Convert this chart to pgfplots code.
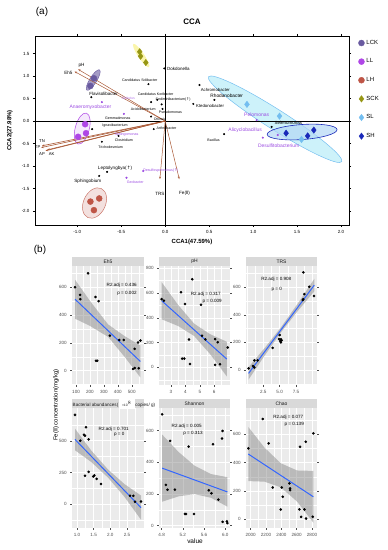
\documentclass[border=0pt]{standalone}
\usepackage{pgfplots}
\pgfplotsset{compat=1.18}
\usepackage{fontspec}
\setmainfont{Liberation Sans}
\newfontfamily\dejavu{DejaVu Sans}
\usetikzlibrary{arrows.meta}
\definecolor{cLCK}{RGB}{105,90,160}
\definecolor{cLL}{RGB}{175,70,230}
\definecolor{cLH}{RGB}{190,85,70}
\definecolor{cSCK}{RGB}{150,150,20}
\definecolor{cSL}{RGB}{115,190,240}
\definecolor{cSH}{RGB}{25,40,185}
\definecolor{arrowc}{RGB}{170,90,55}
\definecolor{spp}{RGB}{155,75,225}
\definecolor{ggbg}{RGB}{235,235,235}
\definecolor{ggstrip}{RGB}{217,217,217}
\definecolor{ggtext}{RGB}{77,77,77}
\definecolor{ggdark}{RGB}{26,26,26}
\definecolor{ggblue}{RGB}{51,102,255}
\definecolor{slfill}{RGB}{205,242,250}
\definecolor{shfill}{RGB}{180,215,245}
\definecolor{sckfill}{RGB}{250,245,170}
\pgfplotsset{
 gg/.style={
  scale only axis, anchor=south west,
  axis background/.style={fill=ggbg},
  axis line style={draw=none},
  grid=both,
  major grid style={white, line width=0.5pt},
  minor grid style={white, line width=0.25pt},
  tick align=outside, major tick length=1.8bp, minor tick length=0pt,
  tick style={ggtext, line width=0.4pt},
  ticklabel style={font=\fontsize{4.6}{5}\selectfont, text=ggtext},
  /pgf/number format/assume math mode=true,
  scaled ticks=false,
  every axis title/.style={at={(0.5,1)}, anchor=south, fill=ggstrip, minimum width=#1, minimum height=9bp, inner sep=0pt, font=\fontsize{5}{6}\selectfont, text=ggdark},
 },
 band/.style={fill=gray, fill opacity=0.45, draw=none, forget plot},
 ggline/.style={ggblue, line width=1bp, no marks},
 ggpt/.style={only marks, mark=*, mark size=1.1bp, black},
 onedec/.style={/pgf/number format/fixed, /pgf/number format/fixed zerofill, /pgf/number format/precision=1},
}
\begin{document}
\begin{tikzpicture}
\useasboundingbox (0,0) rectangle (388bp,550bp);
\node[font=\fontsize{10}{12}\selectfont] at (42bp,538bp) {(a)};
\node[font=\fontsize{10}{12}\selectfont] at (40bp,300bp) {(b)};
% ---------------- CCA ----------------
\begin{axis}[scale only axis, width=314bp, height=189bp, at={(35bp,325bp)}, anchor=south west,
 xmin=-1.48, xmax=2.09, ymin=-2.31, ymax=1.89,
 xtick={-1,-0.5,0,0.5,1,1.5,2}, ytick={-2,-1.5,-1,-0.5,0,0.5,1,1.5},
 xticklabel style={onedec}, yticklabel style={onedec},
 /pgf/number format/assume math mode=true,
 tick align=outside, major tick length=2bp, tick style={black, line width=0.4pt},
 ticklabel style={font=\fontsize{4.5}{5}\selectfont},
 axis line style={line width=0.5pt},
 title={\textbf{CCA}}, every axis title/.style={at={(0.5,1)}, anchor=base, yshift=11bp, font=\fontsize{8}{9}\selectfont},
 xlabel={\textbf{CCA1(47.59\%)}}, xlabel style={at={(axis description cs:0.5,-0.088)}, anchor=center, font=\fontsize{6}{7}\selectfont},
 ylabel={\textbf{CCA2(27.98\%)}}, ylabel style={at={(axis description cs:-0.08,0.5)}, anchor=center, font=\fontsize{6}{7}\selectfont},
 legend style={at={(axis description cs:1.02,1.0)}, anchor=north west, draw=none, fill=none, font=\fontsize{6}{7}\selectfont, row sep=9bp},
 legend cell align=left,
]
% ellipses
\draw[fill=slfill, draw=cSL, line width=0.5pt, rotate around={-32.5:(axis cs:1.25,0.04)}] (axis cs:1.25,0.04) ellipse [x radius=79bp, y radius=10bp];
\draw[fill=shfill, fill opacity=0.7, draw=cSH, line width=0.6pt, rotate around={4:(axis cs:1.557,-0.244)}] (axis cs:1.557,-0.244) ellipse [x radius=35bp, y radius=7.5bp];
\draw[fill=cLH!18, draw=cLH!80, line width=0.5pt, rotate around={65:(axis cs:-0.803,-1.822)}] (axis cs:-0.803,-1.822) ellipse [x radius=16bp, y radius=11bp];
\draw[fill=cLL!12, draw=cLL, line width=0.5pt, rotate around={75:(axis cs:-0.943,-0.167)}] (axis cs:-0.943,-0.167) ellipse [x radius=16bp, y radius=7bp];
\draw[fill=cLCK!60, draw=cLCK, line width=0.4pt, rotate around={58:(axis cs:-0.818,0.911)}] (axis cs:-0.818,0.911) ellipse [x radius=12bp, y radius=3.5bp];
\fill[fill=sckfill, rotate around={-56:(axis cs:-0.273,1.456)}] (axis cs:-0.273,1.456) ellipse [x radius=14bp, y radius=3bp];
% zero lines
\draw[black, line width=0.5pt] (axis cs:-1.48,0) -- (axis cs:2.09,0);
\draw[black, line width=0.5pt] (axis cs:0,-2.31) -- (axis cs:0,1.89);
% groups
\addplot[only marks, mark=*, mark size=3bp, color=cLCK] coordinates {(-0.81,0.95) (-0.85,0.78)}; \addlegendentry{LCK}
\addplot[only marks, mark=*, mark size=3bp, color=cLL] coordinates {(-0.91,-0.07) (-0.90,-0.27) (-0.99,-0.35)}; \addlegendentry{LL}
\addplot[only marks, mark=*, mark size=3bp, color=cLH] coordinates {(-0.85,-1.79) (-0.75,-1.72) (-0.81,-1.98)}; \addlegendentry{LH}
\addplot[only marks, mark=diamond*, mark size=3.2bp, color=cSCK] coordinates {(-0.29,1.54) (-0.28,1.44) (-0.22,1.30)}; \addlegendentry{SCK}
\addplot[only marks, mark=diamond*, mark size=3.2bp, color=cSL] coordinates {(0.93,0.37) (1.30,0.11) (1.55,-0.41)}; \addlegendentry{SL}
\addplot[only marks, mark=diamond*, mark size=3.2bp, color=cSH] coordinates {(1.375,-0.27) (1.62,-0.33) (1.69,-0.20)}; \addlegendentry{SH}
% arrows
\addplot[arrowc, line width=0.5pt, -{Stealth[length=2.5bp,width=2bp]}, forget plot] coordinates {(0,0) (-1.03,1.10)};
\addplot[arrowc, line width=0.5pt, -{Stealth[length=2.5bp,width=2bp]}, forget plot] coordinates {(0,0) (-0.99,1.15)};
\addplot[arrowc, line width=0.6pt, -{Stealth[length=2.5bp,width=2bp]}, forget plot] coordinates {(0,0) (-1.40,-0.55)};
\addplot[arrowc, line width=0.6pt, -{Stealth[length=2.5bp,width=2bp]}, forget plot] coordinates {(0,0) (-1.41,-0.59)};
\addplot[arrowc, line width=0.6pt, -{Stealth[length=2.5bp,width=2bp]}, forget plot] coordinates {(0,0) (-1.36,-0.66)};
\addplot[arrowc, line width=0.6pt, -{Stealth[length=2.5bp,width=2bp]}, forget plot] coordinates {(0,0) (-1.34,-0.64)};
\addplot[arrowc, line width=0.5pt, -{Stealth[length=2.5bp,width=2bp]}, forget plot] coordinates {(0,0) (-0.06,-1.29)};
\addplot[arrowc, line width=0.5pt, -{Stealth[length=2.5bp,width=2bp]}, forget plot] coordinates {(0,0) (0.16,-1.29)};
% species dots
\addplot[only marks, mark=*, mark size=0.8bp, black, forget plot] coordinates {
(-0.01,1.17) (-0.19,0.82) (-0.09,0.47) (-0.16,0.42) (-0.04,0.37) (-0.03,0.27)
(-0.84,0.53) (-0.16,0.10) (-0.83,-0.18) (-0.53,-0.33) (-0.72,-0.46) (-0.66,-1.13)
(-0.75,-1.22) (-0.13,-0.18) (0.32,0.38) (0.39,0.80) (0.56,0.47) (0.67,-0.29) (1.21,-0.13)};
\addplot[only marks, mark=*, mark size=0.8bp, spp, forget plot] coordinates {
(-0.72,0.42) (-0.47,0.16) (-0.25,-1.11) (-0.44,-1.26) (1.04,0.02) (1.28,-0.31) (1.11,-0.37)};
% species labels
\begin{scope}[every node/.style={font=\fontsize{3.6}{4}\selectfont, inner sep=0pt}]
\node[anchor=west, font=\fontsize{4.5}{5}\selectfont] at (axis cs:0.02,1.17) {Dokdonella};
\node at (axis cs:-0.29,0.91) {Candidatus Solibacter};
\node at (axis cs:-0.11,0.60) {Candidatus Koribacter};
\node at (axis cs:0.09,0.47) {Sediminibacterium({\dejavu↑})};
\node at (axis cs:0.06,0.19) {Pseudomonas};
\node[font=\fontsize{4.5}{5}\selectfont] at (axis cs:-0.70,0.60) {Flavisolibacter};
\node[text=spp!70] at (axis cs:-0.42,0.49) {Opitutus};
\node[text=spp, font=\fontsize{5}{6}\selectfont] at (axis cs:-0.85,0.30) {Anaeromyxobacter};
\node at (axis cs:-0.25,0.26) {Acidobacterium};
\node at (axis cs:-0.54,0.06) {Gemmatimonas};
\node at (axis cs:-0.57,-0.11) {Ignavibacterium};
\node[text=spp] at (axis cs:-0.44,-0.29) {Sphingomonas};
\node at (axis cs:-0.47,-0.42) {Clostridium};
\node at (axis cs:-0.62,-0.58) {Trichodesmium};
\node[anchor=west] at (axis cs:-0.10,-0.16) {Arthrobacter};
\node[anchor=west] at (axis cs:-0.13,0.05) {Ottowia};
\node[anchor=west, font=\fontsize{4.3}{5}\selectfont] at (axis cs:0.35,0.34) {Ktedonobacter};
\node[font=\fontsize{4.3}{5}\selectfont] at (axis cs:0.57,0.70) {Achromobacter};
\node[font=\fontsize{4.8}{5}\selectfont] at (axis cs:0.70,0.56) {Rhodanobacter};
\node at (axis cs:0.55,-0.42) {Bacillus};
\node[text=spp, font=\fontsize{5}{6}\selectfont] at (axis cs:1.04,0.13) {Pelomonas};
\node[font=\fontsize{4.5}{5}\selectfont] at (axis cs:1.40,-0.05) {Selenomonas};
\node[text=spp, font=\fontsize{5}{6}\selectfont] at (axis cs:0.91,-0.20) {Alicyclobacillus};
\node[text=spp, font=\fontsize{5}{6}\selectfont] at (axis cs:1.29,-0.55) {Desulfitobacterium};
\node[font=\fontsize{4.6}{5}\selectfont] at (axis cs:-0.57,-1.05) {Leptolyngbya({\dejavu↑})};
\node[font=\fontsize{4.6}{5}\selectfont] at (axis cs:-0.88,-1.33) {Sphingobium};
\node[text=spp] at (axis cs:-0.05,-1.11) {Desulfosporosinus({\dejavu↑})};
\node[text=spp] at (axis cs:-0.34,-1.35) {Geobacter};
\node[font=\fontsize{4.6}{5}\selectfont] at (axis cs:-0.06,-1.61) {TRS};
\node[font=\fontsize{4.6}{5}\selectfont] at (axis cs:0.22,-1.61) {Fe({\dejavu Ⅱ})};
\node[font=\fontsize{4.6}{5}\selectfont] at (axis cs:-1.10,1.07) {Eh5};
\node[font=\fontsize{4.6}{5}\selectfont] at (axis cs:-0.95,1.24) {pH};
\node[font=\fontsize{4.2}{5}\selectfont] at (axis cs:-1.40,-0.44) {TN};
\node[font=\fontsize{4.2}{5}\selectfont] at (axis cs:-1.45,-0.58) {TP};
\node[font=\fontsize{4.2}{5}\selectfont] at (axis cs:-1.40,-0.73) {AP};
\node[font=\fontsize{4.2}{5}\selectfont] at (axis cs:-1.29,-0.73) {AK};
\end{scope}
\end{axis}
% ---------------- Facets row 1 ----------------
\begin{axis}[gg={72bp}, at={(72bp,165bp)}, width=72bp, height=119bp,
 xmin=71, xmax=588, ymin=-103, ymax=753, xtick={100,200,300,400,500}, ytick={0,200,400,600},
 minor xtick={150,250,350,450,550}, minor ytick={-100,100,300,500,700}, title={Eh5}]
\addplot[band] coordinates {(93,654) (200,502) (330,333) (450,248) (562,181) (562,-49) (450,98) (330,243) (200,322) (93,374)} -- cycle;
\addplot[ggline] coordinates {(93,514) (562,66)};
\addplot[ggpt] coordinates {(93,600) (129,545) (131,514) (186,700) (240,530) (262,500) (243,71) (252,71) (343,252) (410,221) (443,221) (521,157) (545,202) (562,217) (509,12) (521,19) (550,17)};
\node[font=\fontsize{4.6}{5}\selectfont] at (rel axis cs:0.690,0.834) {R2.adj = 0.436};
\node[font=\fontsize{4.6}{5}\selectfont] at (rel axis cs:0.764,0.771) {p = 0.002};
\end{axis}
\begin{axis}[gg={71bp}, at={(159bp,165bp)}, width=71bp, height=119bp,
 xmin=2.17, xmax=7.09, ymin=-143, ymax=818, xtick={3,4,5,6}, ytick={0,200,400,600,800},
 minor xtick={2.5,3.5,4.5,5.5,6.5}, minor ytick={-100,100,300,500,700}, title={pH}]
\addplot[band] coordinates {(2.35,688) (3.5,503) (4.6,353) (5.7,268) (6.87,206) (6.87,-74) (5.7,108) (4.6,253) (3.5,333) (2.35,388)} -- cycle;
\addplot[ggline] coordinates {(2.35,538) (6.87,66)};
\addplot[ggpt] coordinates {(4.48,711) (2.35,551) (2.51,538) (3.69,606) (3.97,511) (5.08,505) (5.15,254) (5.38,225) (4.25,225) (3.78,70) (3.92,70) (4.32,27) (6.06,227) (6.24,203) (6.93,160) (6.06,19) (6.40,24)};
\node[font=\fontsize{4.6}{5}\selectfont] at (rel axis cs:0.659,0.765) {R2.adj = 0.317};
\node[font=\fontsize{4.6}{5}\selectfont] at (rel axis cs:0.749,0.706) {p = 0.009};
\end{axis}
\begin{axis}[gg={71bp}, at={(246bp,165bp)}, width=71bp, height=119bp,
 xmin=-0.15, xmax=10.71, ymin=-108, ymax=752, xtick={2.5,5,7.5}, ytick={0,200,400,600},
 xticklabel style={onedec},
 minor xtick={0,1.25,3.75,6.25,8.75,10}, minor ytick={-100,100,300,500,700}, title={TRS}]
\addplot[band] coordinates {(0.24,21) (2.8,165) (5.3,315) (7.8,483) (10.3,659) (10.3,569) (7.8,429) (5.3,279) (2.8,111) (0.24,-69)} -- cycle;
\addplot[ggline] coordinates {(0.24,-24) (10.3,614)};
\addplot[ggpt] coordinates {(8.62,706) (9.54,602) (10.26,535) (8.77,549) (8.53,506) (8.6,512) (5.0,253) (4.9,225) (5.2,222) (5.3,215) (5.1,210) (5.2,200) (3.93,160) (1.12,70) (1.63,70) (0.91,29) (1.12,19) (0.24,12)};
\node[font=\fontsize{4.6}{5}\selectfont] at (rel axis cs:0.427,0.888) {R2.adj = 0.908};
\node[font=\fontsize{4.6}{5}\selectfont] at (rel axis cs:0.434,0.804) {p = 0};
\end{axis}
% ---------------- Facets row 2 ----------------
\begin{axis}[gg={72bp}, at={(72bp,22bp)}, width=72bp, height=120bp,
 xmin=0.85, xmax=3.01, ymin=-186, ymax=757, xtick={1,1.5,2,2.5}, ytick={0,250,500},
 xticklabel style={onedec},
 minor xtick={1.25,1.75,2.25,2.75}, minor ytick={-125,125,375,625},
 title={\strut}]
\addplot[band] coordinates {(0.94,595) (1.43,422) (1.93,274) (2.42,160) (2.92,69) (2.92,-121) (2.42,60) (1.93,210) (1.43,332) (0.94,425)} -- cycle;
\addplot[ggline] coordinates {(0.94,510) (2.92,-26)};
\addplot[ggpt] coordinates {(0.94,703) (1.27,606) (1.21,547) (1.24,539) (1.35,510) (1.10,500) (1.24,224) (1.35,255) (1.49,219) (1.52,227) (1.59,200) (1.72,159) (2.59,67) (2.69,67) (2.74,20) (2.92,23)};
\node[font=\fontsize{4.6}{5}\selectfont] at (rel axis cs:0.579,0.823) {R2.adj = 0.701};
\node[font=\fontsize{4.6}{5}\selectfont] at (rel axis cs:0.657,0.778) {p = 0};
\coordinate (bactNW) at (rel axis cs:0,1);
\end{axis}
\node[anchor=west, inner sep=0pt, font=\fontsize{4.6}{5}\selectfont, text=ggdark] at ([xshift=0.5bp,yshift=4.5bp]bactNW) {Bacterial abundances(\,\colorbox{white}{\fontsize{3.3}{4}\selectfont ×10$^{8}$}\,copies/ g)};
\begin{axis}[gg={71bp}, at={(159bp,22bp)}, width=71bp, height=120bp,
 xmin=4.75, xmax=6.09, ymin=-15, ymax=743, xtick={4.8,5.2,5.6,6.0}, ytick={0,200,400,600},
 xticklabel style={onedec},
 minor xtick={5.0,5.4,5.8}, minor ytick={100,300,500,700}, title={Shannon}]
\addplot[band] coordinates {(4.81,575) (5.12,465) (5.42,379) (5.73,326) (6.04,306) (6.04,120) (5.73,176) (5.42,199) (5.12,185) (4.81,151)} -- cycle;
\addplot[ggline] coordinates {(4.81,363) (6.04,213)};
\addplot[ggpt] coordinates {(4.81,703) (4.96,535) (5.31,499) (5.77,514) (5.95,598) (5.94,550) (4.88,257) (4.91,227) (5.05,227) (5.69,223) (5.74,204) (5.87,164) (5.24,74) (5.26,74) (5.41,74) (5.95,24) (6.03,27) (6.04,16)};
\node[font=\fontsize{4.6}{5}\selectfont] at (rel axis cs:0.390,0.850) {R2.adj = 0.005};
\node[font=\fontsize{4.6}{5}\selectfont] at (rel axis cs:0.479,0.789) {p = 0.313};
\end{axis}
\begin{axis}[gg={71bp}, at={(246bp,22bp)}, width=71bp, height=120bp,
 xmin=1939, xmax=2865, ymin=-61, ymax=786, xtick={2000,2200,2400,2600,2800}, ytick={0,200,400,600},
 xticklabel style={/pgf/number format/1000 sep={}},
 minor xtick={2100,2300,2500,2700}, minor ytick={100,300,500,700}, title={Chao}]
\addplot[band] coordinates {(1969,652) (2181,506) (2393,396) (2606,345) (2818,342) (2818,-24) (2606,125) (2393,226) (2181,266) (1969,270)} -- cycle;
\addplot[ggline] coordinates {(1969,461) (2818,159)};
\addplot[ggpt] coordinates {(1969,501) (2157,708) (2235,536) (2288,225) (2405,225) (2418,159) (2392,70) (2505,254) (2514,218) (2514,206) (2644,512) (2719,548) (2818,607) (2635,70) (2701,70) (2658,18) (2723,6) (2810,18)};
\node[font=\fontsize{4.6}{5}\selectfont] at (rel axis cs:0.596,0.922) {R2.adj = 0.077};
\node[font=\fontsize{4.6}{5}\selectfont] at (rel axis cs:0.679,0.867) {p = 0.139};
\end{axis}
\node[rotate=90, font=\fontsize{6}{7}\selectfont] at (56bp,145bp) {Fe({\dejavu Ⅱ}) concentration(mg/kg)};
\node[font=\fontsize{6.5}{7}\selectfont] at (195bp,9bp) {value};
\end{tikzpicture}
\end{document}
